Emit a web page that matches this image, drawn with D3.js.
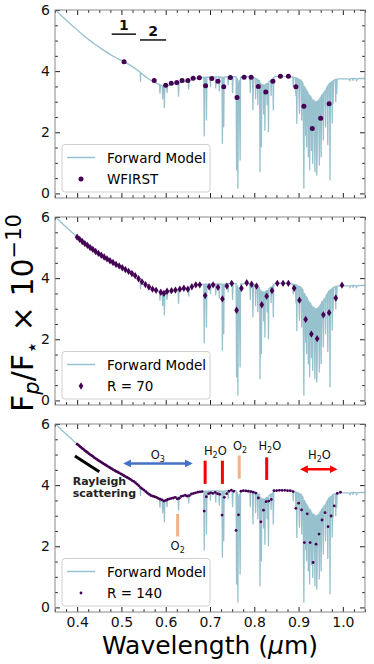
<!DOCTYPE html>
<html>
<head>
<meta charset="utf-8">
<script src="https://cdn.jsdelivr.net/npm/d3@7"></script>
<style>
  body { margin: 0; background: #fff; }
  svg { display: block; }
  text { font-family: "DejaVu Sans", sans-serif; }
</style>
</head>
<body>
<script>
// ---- data ----
var xTicks = [0.4, 0.5, 0.6, 0.7, 0.8, 0.9, 1.0];
var xTickLabels = ['0.4', '0.5', '0.6', '0.7', '0.8', '0.9', '1.0'];
var xMinor = [0.35, 0.375, 0.425, 0.45, 0.475, 0.525, 0.55, 0.575, 0.625, 0.65, 0.675, 0.725, 0.75, 0.775,
              0.825, 0.85, 0.875, 0.925, 0.95, 0.975, 1.025, 1.05];
var yTicks = [0, 2, 4, 6];
var yMinor = [0.5, 1, 1.5, 2.5, 3, 3.5, 4.5, 5, 5.5];
var legendNames = ['Forward Model', 'WFIRST', 'R = 70', 'R = 140'];

// forward model spectrum [wavelength, flux]
var model = [[0.350,6.02],[0.360,5.88],[0.370,5.74],[0.380,5.61],[0.390,5.48],[0.400,5.35],[0.410,5.22],
  [0.420,5.10],[0.430,4.99],[0.440,4.88],[0.450,4.78],[0.460,4.68],[0.470,4.59],[0.480,4.50],[0.490,4.42],
  [0.500,4.35],[0.510,4.28],[0.520,4.19],[0.530,4.10],[0.540,3.99],[0.5425,3.96],[0.543,3.66],[0.5435,3.95],
  [0.550,3.87],[0.560,3.76],[0.570,3.67],[0.575,3.63],[0.580,3.60],[0.586,3.56],[0.587,3.28],[0.588,3.55],
  [0.592,3.53],[0.593,3.10],[0.594,3.52],[0.596,3.51],[0.597,2.80],[0.598,3.50],[0.602,3.50],[0.603,3.30],
  [0.604,3.51],[0.610,3.55],[0.620,3.59],[0.628,3.61],[0.629,3.18],[0.630,3.62],[0.640,3.65],[0.651,3.68],
  [0.652,3.42],[0.653,3.69],[0.660,3.72],[0.670,3.76],[0.680,3.79],[0.686,3.80],[0.687,1.88],[0.688,3.80],
  [0.691,3.80],[0.692,2.40],[0.693,3.80],[0.700,3.80],[0.701,3.50],[0.702,3.81],[0.712,3.81],[0.713,3.45],
  [0.714,3.81],[0.720,3.81],[0.721,3.35],[0.722,3.81],[0.727,3.80],[0.728,1.64],[0.729,3.78],[0.730,3.80],
  [0.731,2.18],[0.732,3.80],[0.740,3.82],[0.741,3.55],[0.742,3.82],[0.750,3.82],[0.751,3.30],[0.752,3.82],
  [0.759,3.82],[0.760,0.77],[0.761,3.70],[0.762,3.75],[0.763,0.17],[0.764,3.50],[0.766,3.70],[0.768,1.09],
  [0.769,3.80],[0.780,3.83],[0.790,3.82],[0.791,3.30],[0.792,3.80],[0.796,3.80],[0.797,2.73],[0.798,3.78],
  [0.802,3.78],[0.803,3.10],[0.804,3.75],[0.807,3.75],[0.808,2.90],[0.809,3.70],[0.812,3.70],[0.813,0.71],
  [0.814,3.60],[0.815,3.60],[0.816,1.53],[0.817,3.55],[0.820,3.55],[0.821,2.60],[0.822,3.55],[0.823,3.50],
  [0.824,2.07],[0.825,3.55],[0.828,3.60],[0.829,2.90],[0.830,3.60],[0.831,3.60],[0.832,2.02],[0.833,3.65],
  [0.837,3.70],[0.838,3.20],[0.839,3.70],[0.842,3.75],[0.843,2.73],[0.844,3.80],[0.850,3.83],[0.860,3.83],
  [0.870,3.83],[0.880,3.82],[0.887,3.80],[0.888,3.49],[0.889,3.80],[0.893,3.78],[0.894,3.20],[0.895,3.78],
  [0.896,2.29],[0.897,3.76],[0.900,3.74],[0.902,2.62],[0.903,3.72],[0.906,3.70],[0.907,2.40],[0.908,3.65],
  [0.910,3.60],[0.912,0.17],[0.913,3.50],[0.915,3.45],[0.916,1.90],[0.917,3.40],[0.918,1.53],[0.919,3.35],
  [0.921,3.30],[0.922,1.20],[0.923,3.25],[0.925,0.77],[0.926,3.20],[0.928,3.15],[0.929,1.40],[0.930,3.10],
  [0.932,0.98],[0.933,3.05],[0.935,3.05],[0.937,0.71],[0.938,3.00],[0.940,3.00],[0.941,0.60],[0.942,1.31],
  [0.943,3.00],[0.945,3.05],[0.947,0.93],[0.948,3.10],[0.950,3.15],[0.951,1.20],[0.952,3.20],[0.954,3.25],
  [0.956,1.75],[0.957,3.30],[0.960,3.35],[0.961,2.18],[0.962,3.40],[0.965,3.50],[0.966,1.60],[0.967,3.55],
  [0.970,3.60],[0.971,0.44],[0.972,3.62],[0.975,3.65],[0.976,2.30],[0.977,3.68],[0.978,2.95],[0.979,3.70],
  [0.983,3.72],[0.984,3.00],[0.985,3.73],[0.986,3.27],[0.987,3.74],[0.990,3.75],[0.995,3.75],[1.000,3.75],
  [1.010,3.75],[1.015,3.74],[1.016,3.68],[1.017,3.75],[1.022,3.76],[1.023,3.70],[1.024,3.76],[1.030,3.75],
  [1.031,3.68],[1.032,3.75],[1.040,3.76],[1.050,3.76]];

var wfirst = [[0.506,4.31],[0.574,3.69],[0.600,3.54],[0.6125,3.60],[0.625,3.63],[0.637,3.69],[0.650,3.69],
  [0.662,3.77],[0.676,3.78],[0.690,3.52],[0.704,3.76],[0.718,3.67],[0.731,3.49],[0.746,3.79],[0.761,3.14],
  [0.777,3.80],[0.793,3.80],[0.809,3.50],[0.826,3.32],[0.842,3.67],[0.859,3.83],[0.877,3.83],[0.894,3.49],
  [0.912,2.85],[0.931,2.12],[0.950,2.46],[0.969,2.93]];

var r70 = [[0.400,5.34],[0.4057,5.27],[0.4115,5.20],[0.4174,5.13],[0.4234,5.07],[0.4294,5.00],[0.4355,4.94],
  [0.4418,4.87],[0.4481,4.81],[0.4545,4.75],[0.4610,4.69],[0.4675,4.63],[0.4742,4.57],[0.4810,4.51],
  [0.4878,4.45],[0.4948,4.40],[0.5019,4.34],[0.5090,4.28],[0.5163,4.22],[0.5237,4.15],[0.5311,4.08],
  [0.5387,3.98],[0.5464,3.88],[0.5542,3.79],[0.5621,3.71],[0.5702,3.64],[0.5783,3.60],[0.589,3.54],
  [0.596,3.50],[0.603,3.57],[0.613,3.59],[0.622,3.61],[0.632,3.64],[0.641,3.67],[0.650,3.64],[0.659,3.72],
  [0.668,3.78],[0.677,3.78],[0.689,3.43],[0.698,3.72],[0.707,3.78],[0.718,3.70],[0.728,3.32],[0.738,3.74],
  [0.749,3.83],[0.760,2.95],[0.771,3.67],[0.783,3.85],[0.794,3.80],[0.805,3.74],[0.817,3.13],[0.828,3.41],
  [0.840,3.59],[0.852,3.83],[0.865,3.83],[0.877,3.83],[0.890,3.67],[0.902,3.28],[0.916,2.65],[0.929,2.17],
  [0.942,2.02],[0.956,2.80],[0.969,2.87],[0.984,3.35],[0.998,3.77]];

var r140 = [[0.4000,5.34],[0.4029,5.31],[0.4057,5.27],[0.4086,5.24],[0.4115,5.20],[0.4145,5.17],[0.4174,5.13],
  [0.4204,5.10],[0.4234,5.07],[0.4264,5.03],[0.4294,5.00],[0.4325,4.97],[0.4356,4.94],[0.4387,4.90],
  [0.4418,4.87],[0.4449,4.84],[0.4481,4.81],[0.4513,4.78],[0.4545,4.75],[0.4578,4.72],[0.4610,4.69],
  [0.4643,4.66],[0.4676,4.63],[0.4710,4.60],[0.4743,4.57],[0.4777,4.54],[0.4811,4.51],[0.4846,4.48],
  [0.4880,4.45],[0.4915,4.43],[0.4950,4.40],[0.4986,4.37],[0.5021,4.34],[0.5057,4.31],[0.5093,4.28],
  [0.5130,4.25],[0.5166,4.22],[0.5203,4.19],[0.5240,4.15],[0.5278,4.12],[0.5316,4.08],[0.5354,4.03],
  [0.5392,3.98],[0.5430,3.92],[0.5469,3.88],[0.5508,3.84],[0.5548,3.79],[0.5587,3.74],[0.5627,3.70],
  [0.5667,3.66],[0.5708,3.64],[0.5749,3.62],[0.5790,3.60],[0.5831,3.57],[0.5873,3.54],[0.5915,3.52],
  [0.5957,3.48],[0.6000,3.50],[0.6043,3.53],[0.6086,3.55],[0.6129,3.57],[0.6173,3.58],[0.6217,3.60],
  [0.6262,3.55],[0.6306,3.57],[0.6351,3.63],[0.6397,3.65],[0.6443,3.67],[0.6489,3.64],[0.6535,3.66],
  [0.6582,3.71],[0.6629,3.73],[0.6676,3.75],[0.6724,3.77],[0.6772,3.78],[0.6820,3.79],[0.6869,3.15],
  [0.6918,3.62],[0.6967,3.72],[0.7017,3.75],[0.7067,3.73],[0.7118,3.76],[0.7169,3.72],[0.7220,3.70],
  [0.7272,3.02],[0.7324,3.60],[0.7376,3.72],[0.7429,3.80],[0.7482,3.84],[0.7535,3.80],[0.7589,2.52],
  [0.7643,3.03],[0.7698,3.80],[0.7753,3.82],[0.7808,3.81],[0.7864,3.80],[0.7920,3.79],[0.7977,3.77],
  [0.8034,3.74],[0.8091,3.58],[0.8149,2.80],[0.8207,3.18],[0.8266,3.46],[0.8325,3.48],[0.8384,3.53],
  [0.8444,3.82],[0.8504,3.82],[0.8565,3.83],[0.8626,3.83],[0.8688,3.83],[0.8750,3.82],[0.8812,3.82],
  [0.8875,3.79],[0.8939,3.24],[0.9002,3.41],[0.9067,3.19],[0.9131,2.12],[0.9196,3.06],[0.9262,2.12],
  [0.9328,1.47],[0.9395,2.07],[0.9462,2.40],[0.9530,2.86],[0.9598,3.10],[0.9666,2.64],[0.9735,2.99],
  [0.9805,3.32],[0.9875,3.73],[0.9945,3.77]];

// band markers (wavelength, flux) for the annotations
var filterBars = [{name: '1', from: 0.478, to: 0.533, y: 5.21}, {name: '2', from: 0.542, to: 0.601, y: 5.02}];
var bandBars = [
  {wl: 0.689, y0: 4.04, y1: 4.80, color: '#ff0000'},
  {wl: 0.728, y0: 4.04, y1: 4.80, color: '#ff0000'},
  {wl: 0.766, y0: 4.21, y1: 4.97, color: '#f4b183'},
  {wl: 0.828, y0: 4.17, y1: 4.91, color: '#ff0000'},
  {wl: 0.627, y0: 2.32, y1: 3.06, color: '#f4b183'}
];
var bandLabels = [
  {mol: ['H', '2', 'O'], wl: 0.712, y: 4.99},
  {mol: ['O', '2', ''], wl: 0.768, y: 5.15},
  {mol: ['H', '2', 'O'], wl: 0.835, y: 5.15},
  {mol: ['O', '2', ''], wl: 0.627, y: 1.88},
  {mol: ['O', '3', ''], wl: 0.582, y: 4.85},
  {mol: ['H', '2', 'O'], wl: 0.947, y: 4.85}
];
var arrows = [
  {from: 0.504, to: 0.661, y: 4.71, color: '#4472c4'},
  {from: 0.903, to: 0.988, y: 4.52, color: '#ff0000'}
];
var rayleigh = {from: [0.395, 4.95], to: [0.450, 4.44], text: ['Rayleigh', 'scattering'], wl: 0.390, y: [4.0, 3.61]};

// ---- layout ----
var W = 374, H = 664;
var left = 55, right = 365;
var panels = [{top: 10, bottom: 198}, {top: 217, bottom: 405}, {top: 424, bottom: 612}];
var modelColor = '#96c1cd';
var dotColor = '#440154';

var svg = d3.select('body').append('svg').attr('width', W).attr('height', H);
var defs = svg.append('defs');

arrows.forEach(function(a, i) {
  defs.append('marker')
    .attr('id', 'head' + i)
    .attr('viewBox', '0 0 10 10')
    .attr('refX', 5).attr('refY', 5)
    .attr('markerWidth', 3.2).attr('markerHeight', 3.2)
    .attr('orient', 'auto-start-reverse')
    .attr('markerUnits', 'strokeWidth')
    .append('path')
    .attr('d', 'M0,0 L10,5 L0,10 Z')
    .attr('fill', a.color);
});

var x = d3.scaleLinear().domain([0.35, 1.05]).range([left, right]);

var diamond = function(s) {
  return 'M0,' + (-s * 1.6) + 'L' + s + ',0L0,' + (s * 1.6) + 'L' + (-s) + ',0Z';
};

var drawMarker = function(g, kind, px, py) {
  if (kind == 'diamond') {
    g.append('path').attr('d', diamond(2.3)).attr('transform', 'translate(' + px + ',' + py + ')')
      .attr('fill', dotColor);
  } else {
    g.append('circle').attr('cx', px).attr('cy', py).attr('r', kind == 'big' ? 2.5 : 1.4)
      .attr('fill', dotColor);
  }
};

var sets = [
  {data: wfirst, kind: 'big', name: legendNames[1]},
  {data: r70, kind: 'diamond', name: legendNames[2]},
  {data: r140, kind: 'small', name: legendNames[3]}
];

panels.forEach(function(p, i) {
  var y = d3.scaleLinear().domain([-0.15, 6]).range([p.bottom, p.top]);
  var g = svg.append('g');

  defs.append('clipPath').attr('id', 'clip' + i)
    .append('rect').attr('x', left).attr('y', p.top).attr('width', right - left).attr('height', p.bottom - p.top);

  var plot = g.append('g').attr('clip-path', 'url(#clip' + i + ')');

  var line = d3.line().x(function(d) { return x(d[0]); }).y(function(d) { return y(d[1]); });
  plot.append('path').datum(model)
    .attr('d', line)
    .attr('fill', 'none')
    .attr('stroke', modelColor)
    .attr('stroke-width', 1.3)
    .attr('stroke-linejoin', 'round');

  var set = sets[i];
  set.data.forEach(function(d) {
    drawMarker(plot, set.kind, x(d[0]), y(d[1]));
  });

  // axes, ticks pointing in
  var axes = [
    {ax: d3.axisLeft(y), tx: left, ty: 0, vals: yTicks, minor: yMinor},
    {ax: d3.axisRight(y), tx: right, ty: 0, vals: yTicks, minor: yMinor},
    {ax: d3.axisTop(x), tx: 0, ty: p.top, vals: xTicks, minor: xMinor},
    {ax: d3.axisBottom(x), tx: 0, ty: p.bottom, vals: xTicks, minor: xMinor}
  ];
  axes.forEach(function(a, k) {
    var showLabels = k == 0 || (k == 3 && i == 2);
    var major = g.append('g').attr('transform', 'translate(' + a.tx + ',' + a.ty + ')')
      .call(a.ax.tickValues(a.vals).tickSize(-5).tickSizeOuter(0).tickPadding(5)
        .tickFormat(showLabels ? (k == 3 ? function(d, j) { return xTickLabels[j]; } : d3.format('d')) : ''));
    major.select('.domain').remove();
    major.selectAll('line').attr('stroke', '#222');
    major.selectAll('text').attr('font-size', 14).attr('fill', '#111');

    var minor = g.append('g').attr('transform', 'translate(' + a.tx + ',' + a.ty + ')')
      .call(a.ax.tickValues(a.minor).tickSize(-2.8).tickFormat(''));
    minor.select('.domain').remove();
    minor.selectAll('line').attr('stroke', '#222');
  });

  g.append('rect')
    .attr('x', left).attr('y', p.top).attr('width', right - left).attr('height', p.bottom - p.top)
    .attr('fill', 'none').attr('stroke', '#8a8a8a').attr('stroke-width', 1);

  // legend
  var lx = 62, ly = p.bottom - 6 - 47.5;
  var leg = g.append('g').attr('transform', 'translate(' + lx + ',' + ly + ')');
  leg.append('rect').attr('width', 148).attr('height', 47.5).attr('rx', 3)
    .attr('fill', 'white').attr('fill-opacity', 0.85).attr('stroke', '#d0d0d0');
  leg.append('line').attr('x1', 5).attr('x2', 33).attr('y1', 13).attr('y2', 13)
    .attr('stroke', modelColor).attr('stroke-width', 1.5);
  leg.append('text').attr('x', 45).attr('y', 18).attr('font-size', 13.5).text(legendNames[0]);
  drawMarker(leg, set.kind, 19, 34.5);
  leg.append('text').attr('x', 45).attr('y', 39.5).attr('font-size', 13.5).text(set.name);

  p.y = y;
  p.g = g;
});

// top panel: imaging bands
var yTop = panels[0].y;
filterBars.forEach(function(b) {
  panels[0].g.append('line')
    .attr('x1', x(b.from)).attr('x2', x(b.to)).attr('y1', yTop(b.y)).attr('y2', yTop(b.y))
    .attr('stroke', '#111').attr('stroke-width', 1.5);
  panels[0].g.append('text')
    .attr('x', x((b.from + b.to) / 2)).attr('y', yTop(b.y) - 4)
    .attr('text-anchor', 'middle').attr('font-size', 14).attr('font-weight', 'bold').attr('fill', '#111')
    .text(b.name);
});

// bottom panel: molecule annotations
var yB = panels[2].y, gB = panels[2].g;
bandBars.forEach(function(b) {
  gB.append('line')
    .attr('x1', x(b.wl)).attr('x2', x(b.wl)).attr('y1', yB(b.y0)).attr('y2', yB(b.y1))
    .attr('stroke', b.color).attr('stroke-width', 3);
});
bandLabels.forEach(function(b) {
  var t = gB.append('text')
    .attr('x', x(b.wl)).attr('y', yB(b.y))
    .attr('text-anchor', 'middle')
    .attr('font-family', 'Lato, sans-serif').attr('font-size', 11.5).attr('fill', '#111');
  t.append('tspan').text(b.mol[0]);
  t.append('tspan').attr('font-size', 8).attr('dy', 3).text(b.mol[1]);
  if (b.mol[2]) t.append('tspan').attr('dy', -3).text(b.mol[2]);
});
arrows.forEach(function(a, i) {
  gB.append('line')
    .attr('x1', x(a.from) + 4).attr('x2', x(a.to) - 4).attr('y1', yB(a.y)).attr('y2', yB(a.y))
    .attr('stroke', a.color).attr('stroke-width', 2.5)
    .attr('marker-start', 'url(#head' + i + ')')
    .attr('marker-end', 'url(#head' + i + ')');
});
gB.append('line')
  .attr('x1', x(rayleigh.from[0])).attr('y1', yB(rayleigh.from[1]))
  .attr('x2', x(rayleigh.to[0])).attr('y2', yB(rayleigh.to[1]))
  .attr('stroke', '#000').attr('stroke-width', 3);
rayleigh.text.forEach(function(s, k) {
  gB.append('text')
    .attr('x', x(rayleigh.wl)).attr('y', yB(rayleigh.y[k]))
    .attr('font-family', 'Lato, sans-serif').attr('font-weight', 'bold').attr('font-size', 11)
    .attr('fill', '#222')
    .text(s);
});

// axis titles
var yl = svg.append('text')
  .attr('transform', 'translate(33,313) rotate(-90)')
  .attr('text-anchor', 'middle')
  .attr('font-size', 30).attr('fill', '#000');
yl.append('tspan').text('F');
yl.append('tspan').attr('font-size', 21).attr('font-style', 'italic').attr('dy', 6).text('p');
yl.append('tspan').attr('dy', -6).text('/F');
yl.append('tspan').attr('font-size', 21).attr('dy', 6).text('\u22c6');
yl.append('tspan').attr('dy', -6).text(' \u00d7 10');
yl.append('tspan').attr('font-size', 21).attr('dy', -12).text('\u221210');

var xl = svg.append('text')
  .attr('x', (left + right) / 2).attr('y', 654)
  .attr('text-anchor', 'middle')
  .attr('font-size', 25).attr('fill', '#000');
xl.append('tspan').text('Wavelength (');
xl.append('tspan').attr('font-style', 'italic').text('\u03bc');
xl.append('tspan').text('m)');
</script>
</body>
</html>
